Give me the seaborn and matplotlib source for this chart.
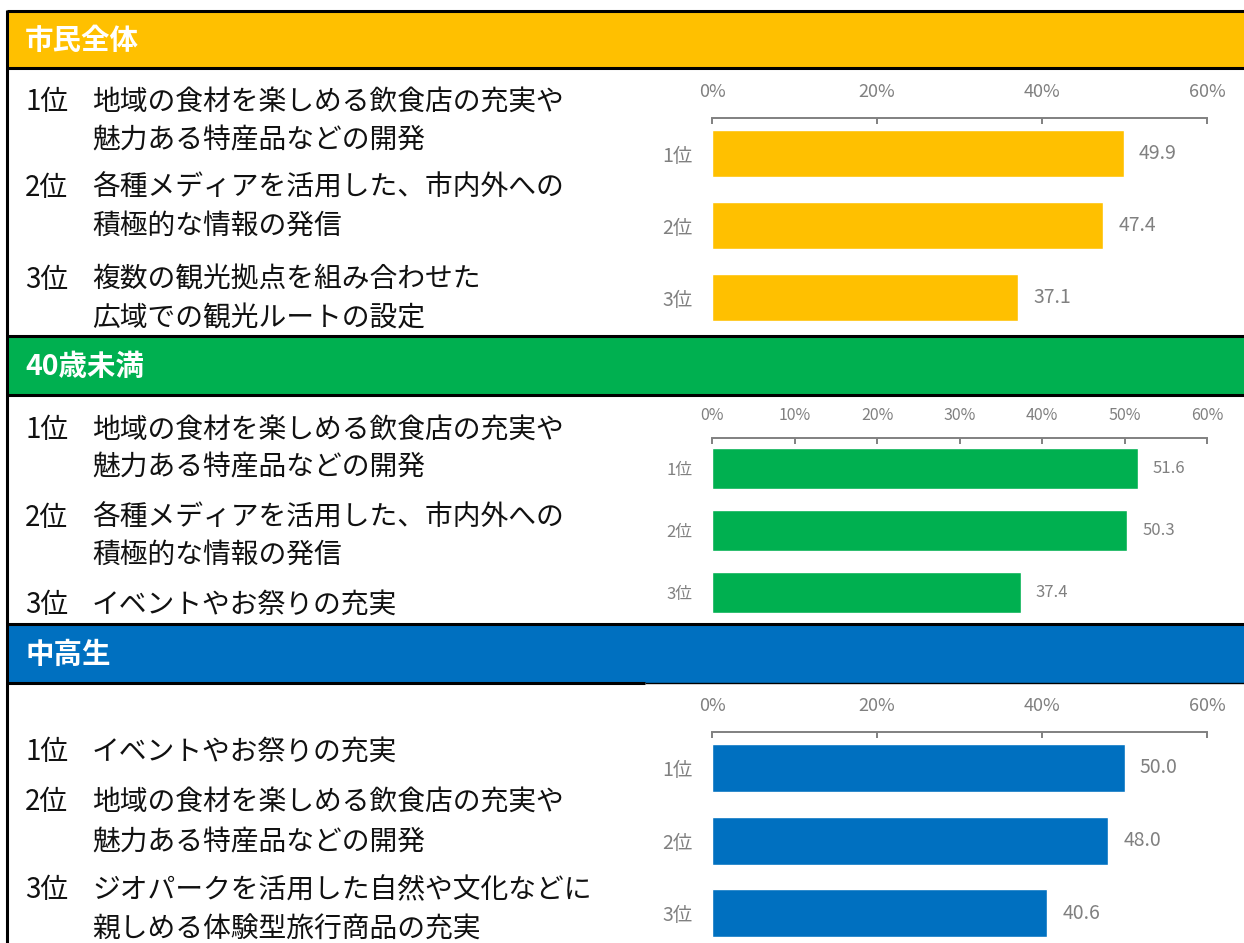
import matplotlib
matplotlib.use("Agg")
import matplotlib.pyplot as plt
from matplotlib.patches import Rectangle
import pandas as pd
import seaborn as sns

# ---- data ----
groups = ["市民全体", "40歳未満", "中高生"]
ranks = ["1位", "2位", "3位"]

values_all = [49.9, 47.4, 37.1]
values_under40 = [51.6, 50.3, 37.4]
values_students = [50.0, 48.0, 40.6]

items_all = [
    "地域の食材を楽しめる飲食店の充実や\n魅力ある特産品などの開発",
    "各種メディアを活用した、市内外への\n積極的な情報の発信",
    "複数の観光拠点を組み合わせた\n広域での観光ルートの設定",
]
items_under40 = [
    "地域の食材を楽しめる飲食店の充実や\n魅力ある特産品などの開発",
    "各種メディアを活用した、市内外への\n積極的な情報の発信",
    "イベントやお祭りの充実",
]
items_students = [
    "イベントやお祭りの充実",
    "地域の食材を楽しめる飲食店の充実や\n魅力ある特産品などの開発",
    "ジオパークを活用した自然や文化などに\n親しめる体験型旅行商品の充実",
]

colors = ["#FFC000", "#00B050", "#0070C0"]
gray = "#808080"

sns.set_theme(style="white")
plt.rcParams["font.family"] = ["Noto Sans CJK JP", "DejaVu Sans"]
narrow = ["Liberation Sans Narrow", "Noto Sans CJK JP", "DejaVu Sans"]

W, H = 1244, 943
fig = plt.figure(figsize=(W / 100, H / 100), dpi=100)

# background canvas in pixel units
bg = fig.add_axes([0, 0, 1, 1])
bg.set_xlim(0, W)
bg.set_ylim(H, 0)
bg.axis("off")

# section layout: header band, list lines, chart box
sections = [
    dict(name=groups[0], values=values_all, items=items_all, color=colors[0],
         head=(11, 68), item_y=[102, 188, 280], line_gap=38,
         ax_box=(117.5, 333.5), bar_w=0.65, ticks=[0, 20, 40, 60],
         tick_fs=13, tick_pad=12, lab_fs=14, val_fs=14),
    dict(name=groups[1], values=values_under40, items=items_under40, color=colors[1],
         head=(336, 395), item_y=[430, 518, 605], line_gap=37,
         ax_box=(437.5, 623.5), bar_w=0.66, ticks=[0, 10, 20, 30, 40, 50, 60],
         tick_fs=11.5, tick_pad=10, lab_fs=12, val_fs=12),
    dict(name=groups[2], values=values_students, items=items_students, color=colors[2],
         head=(624, 683), item_y=[752, 802, 890], line_gap=40,
         ax_box=(731.6, 949.6), bar_w=0.66, ticks=[0, 20, 40, 60],
         tick_fs=13, tick_pad=12, lab_fs=14, val_fs=14),
]

X0, X1 = 712, 1207  # 0% and 60% positions

for i, s in enumerate(sections):
    top, bottom = s["head"]
    bg.add_patch(Rectangle((7, top), W - 7, bottom - top, facecolor=s["color"],
                           edgecolor="none", zorder=1))
    bg.plot([7, W], [top, top], color="black", lw=2.2, zorder=2,
            solid_capstyle="butt")
    if i == 2:
        bg.plot([7, 645], [bottom, bottom], color="black", lw=2.2, zorder=2,
                solid_capstyle="butt")
        bg.plot([645, W], [bottom, bottom], color="black", lw=1.0, zorder=2,
                solid_capstyle="butt")
    else:
        bg.plot([7, W], [bottom, bottom], color="black", lw=2.2, zorder=2,
                solid_capstyle="butt")
    bg.text(25, (top + bottom) / 2 + 1, s["name"], color="white",
            fontsize=20.5, fontweight="bold", va="center", ha="left", zorder=3)

    # ranked list
    for r, item, y in zip(ranks, s["items"], s["item_y"]):
        bg.text(25, y, r, fontsize=20, color="#111111", va="center", ha="left")
        for k, line in enumerate(item.split("\n")):
            bg.text(92, y + k * s["line_gap"], line, fontsize=20,
                    color="#111111", va="center", ha="left")

    # bar chart
    a_top, a_bot = s["ax_box"]
    ax = fig.add_axes([X0 / W, 1 - a_bot / H, (X1 - X0) / W, (a_bot - a_top) / H])
    ax.patch.set_alpha(0)
    df = pd.DataFrame({"rank": ranks, "value": s["values"]})
    sns.barplot(data=df, x="value", y="rank", orient="h", color=s["color"],
                saturation=1, width=s["bar_w"], ax=ax)
    ax.set_xlim(0, 60)
    ax.set_ylim(2.5, -0.5)
    ax.set_xlabel("")
    ax.set_ylabel("")
    for side in ["bottom", "left", "right"]:
        ax.spines[side].set_visible(False)
    ax.spines["top"].set_visible(True)
    ax.spines["top"].set_color(gray)
    ax.spines["top"].set_linewidth(1.4)
    ax.xaxis.tick_top()
    ax.set_xticks(s["ticks"])
    ax.set_xticklabels([f"{t}%" for t in s["ticks"]], family=narrow,
                       fontsize=s["tick_fs"], color=gray)
    ax.tick_params(axis="x", which="major", top=True, bottom=False,
                   direction="in", length=4.5, width=1.4, color=gray,
                   pad=s["tick_pad"])
    ax.tick_params(axis="y", left=False, length=0, pad=14)
    for lab in ax.get_yticklabels():
        lab.set_family(narrow)
        lab.set_fontsize(s["lab_fs"])
        lab.set_color(gray)
    ax.bar_label(ax.containers[0], fmt="%.1f", padding=11, color=gray,
                 fontsize=s["val_fs"], family=narrow)
    ax.grid(False)

# left frame line
bg.plot([7, 7], [10, H], color="black", lw=2.2, zorder=4, solid_capstyle="butt")

fig.savefig("out.png", dpi=100)
